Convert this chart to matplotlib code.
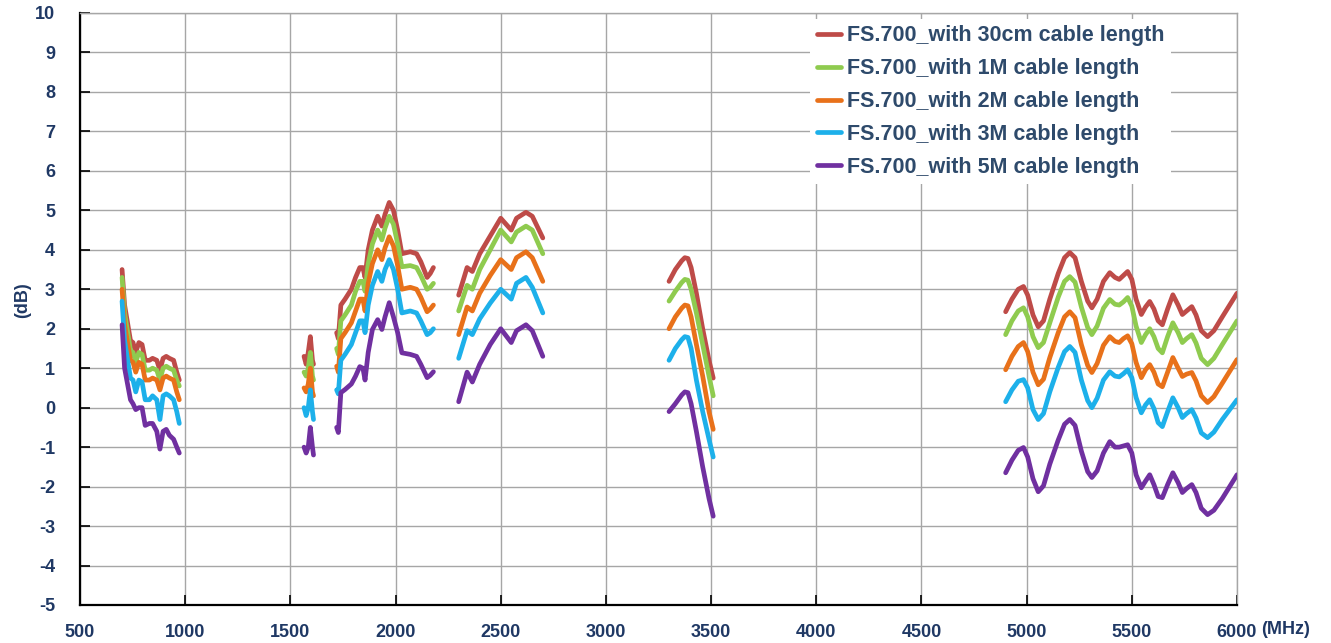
import numpy as np
import matplotlib.pyplot as plt

plt.rcParams['font.family'] = ['Liberation Sans', 'DejaVu Sans']
plt.rcParams['axes.unicode_minus'] = False

# ========== 數據 ==========
series_names = ['FS.700_with 30cm cable length', 'FS.700_with 1M cable length',
                'FS.700_with 2M cable length', 'FS.700_with 3M cable length',
                'FS.700_with 5M cable length']
colors = ['#BE4B48', '#8FCB4F', '#E8711A', '#1DB0EA', '#7030A0']

# 頻段1: 700-970 MHz
x1 = [700, 712, 740, 752, 765, 780, 795, 810, 830, 845, 865, 880, 895, 910, 925, 945, 960, 972]
red1 = [3.5, 2.6, 1.7, 1.65, 1.4, 1.65, 1.6, 1.2, 1.2, 1.25, 1.2, 0.95, 1.25, 1.3, 1.25, 1.2, 0.9, 0.7]
green1 = [3.3, 2.4, 1.45, 1.4, 1.15, 1.4, 1.35, 0.95, 0.95, 1.0, 0.95, 0.7, 1.0, 1.05, 1.0, 0.95, 0.7, 0.55]
orange1 = [3.0, 2.1, 1.2, 1.15, 0.9, 1.15, 1.1, 0.7, 0.7, 0.75, 0.7, 0.45, 0.75, 0.8, 0.75, 0.7, 0.4, 0.2]
blue1 = [2.7, 1.7, 0.75, 0.7, 0.4, 0.7, 0.65, 0.2, 0.2, 0.3, 0.2, -0.3, 0.3, 0.35, 0.3, 0.2, -0.1, -0.4]
purple1 = [2.1, 1.0, 0.2, 0.1, -0.05, 0.0, 0.0, -0.45, -0.4, -0.4, -0.6, -1.05, -0.6, -0.55, -0.7, -0.8, -1.0, -1.15]

# 頻段2: 1565-1610 MHz
x2 = [1565, 1575, 1585, 1595, 1605, 1610]
red2 = [1.3, 1.1, 1.4, 1.8, 1.2, 1.1]
green2 = [0.9, 0.8, 1.0, 1.4, 0.8, 0.7]
orange2 = [0.5, 0.4, 0.6, 1.0, 0.4, 0.3]
blue2 = [0.0, -0.2, 0.0, 0.45, -0.1, -0.3]
purple2 = [-1.0, -1.15, -1.0, -0.5, -1.0, -1.2]

# 頻段3: 1720-2180 MHz
x3 = [1720, 1728, 1740, 1760, 1790, 1810, 1830, 1845, 1855, 1870, 1890, 1915,
      1935, 1950, 1970, 1990, 2010, 2030, 2070, 2100, 2120, 2150, 2165, 2180]
red3 = [1.9, 1.75, 2.6, 2.75, 3.0, 3.3, 3.55, 3.55, 3.3, 4.0, 4.5, 4.85,
        4.6, 4.9, 5.2, 5.0, 4.5, 3.9, 3.95, 3.9, 3.7, 3.3, 3.4, 3.55]
green3 = [1.5, 1.35, 2.2, 2.35, 2.6, 2.95, 3.2, 3.2, 2.95, 3.65, 4.15, 4.5,
          4.25, 4.55, 4.85, 4.65, 4.15, 3.57, 3.6, 3.55, 3.35, 3.0, 3.05, 3.15]
orange3 = [1.05, 0.9, 1.75, 1.9, 2.15, 2.45, 2.75, 2.75, 2.45, 3.15, 3.65, 4.0,
           3.75, 4.05, 4.33, 4.1, 3.6, 3.0, 3.05, 3.0, 2.8, 2.43, 2.5, 2.6]
blue3 = [0.45, 0.35, 1.2, 1.35, 1.6, 1.9, 2.2, 2.2, 1.9, 2.6, 3.1, 3.45,
         3.2, 3.5, 3.75, 3.5, 3.0, 2.4, 2.45, 2.4, 2.2, 1.85, 1.9, 2.0]
purple3 = [-0.5, -0.63, 0.38, 0.46, 0.6, 0.8, 1.04, 1.0, 0.7, 1.4, 1.98, 2.23,
           1.98, 2.3, 2.66, 2.3, 1.9, 1.39, 1.35, 1.3, 1.1, 0.76, 0.82, 0.91]

# 頻段4: 2300-2700 MHz
x4 = [2300, 2340, 2365, 2400, 2450, 2500, 2550, 2575, 2620, 2650, 2700]
red4 = [2.85, 3.55, 3.45, 3.9, 4.35, 4.8, 4.5, 4.8, 4.95, 4.85, 4.3]
green4 = [2.45, 3.1, 3.0, 3.5, 4.0, 4.5, 4.2, 4.45, 4.6, 4.5, 3.9]
orange4 = [1.85, 2.55, 2.45, 2.9, 3.35, 3.75, 3.5, 3.8, 3.95, 3.8, 3.2]
blue4 = [1.25, 1.95, 1.85, 2.25, 2.65, 3.0, 2.75, 3.15, 3.3, 3.05, 2.4]
purple4 = [0.15, 0.9, 0.65, 1.1, 1.6, 2.0, 1.65, 1.95, 2.1, 1.95, 1.3]

# 頻段5: 3300-3510 MHz
x5 = [3300, 3330, 3360, 3375, 3390, 3405, 3430, 3460, 3490, 3510]
red5 = [3.2, 3.5, 3.72, 3.8, 3.78, 3.55, 2.9, 2.0, 1.2, 0.75]
green5 = [2.7, 2.95, 3.17, 3.25, 3.23, 3.0, 2.4, 1.6, 0.8, 0.3]
orange5 = [2.0, 2.3, 2.52, 2.6, 2.58, 2.3, 1.6, 0.8, -0.1, -0.55]
blue5 = [1.2, 1.5, 1.72, 1.8, 1.78, 1.5, 0.7, -0.1, -0.8, -1.25]
purple5 = [-0.1, 0.1, 0.32, 0.4, 0.38, 0.1, -0.6, -1.5, -2.3, -2.75]

# 頻段6: 4900-6000 MHz
x6 = [4900, 4930, 4960, 4985, 5005, 5030, 5055, 5080, 5110, 5150,
      5180, 5205, 5230, 5260, 5290, 5310, 5335, 5365, 5395, 5420,
      5440, 5460, 5480, 5500, 5520, 5545, 5565, 5585, 5605, 5625,
      5645, 5670, 5695, 5720, 5740, 5760, 5785, 5805, 5830, 5860,
      5890, 5930, 5965, 6000]
red6 = [2.43, 2.75, 3.0, 3.07, 2.85, 2.35, 2.05, 2.2, 2.75, 3.4,
        3.8, 3.93, 3.8, 3.2, 2.7, 2.53, 2.75, 3.2, 3.42, 3.3,
        3.25, 3.35, 3.45, 3.25, 2.75, 2.36, 2.55, 2.69, 2.5, 2.2,
        2.1, 2.5, 2.86, 2.6, 2.36, 2.45, 2.56, 2.35, 1.95, 1.8,
        1.95, 2.3, 2.6, 2.9]
green6 = [1.85, 2.2, 2.45, 2.53, 2.3, 1.8, 1.52, 1.65, 2.15, 2.8,
          3.2, 3.32, 3.18, 2.55, 2.03, 1.85, 2.07, 2.52, 2.74, 2.62,
          2.6, 2.68, 2.79, 2.57, 2.07, 1.65, 1.85, 2.0, 1.8, 1.5,
          1.39, 1.8, 2.15, 1.9, 1.65, 1.75, 1.85, 1.64, 1.25, 1.09,
          1.25, 1.6, 1.9, 2.2]
orange6 = [0.96, 1.3, 1.55, 1.65, 1.42, 0.9, 0.58, 0.72, 1.27, 1.9,
           2.3, 2.43, 2.28, 1.6, 1.07, 0.89, 1.12, 1.58, 1.8, 1.68,
           1.65, 1.75, 1.82, 1.62, 1.15, 0.76, 0.96, 1.09, 0.9, 0.6,
           0.53, 0.9, 1.27, 1.0, 0.79, 0.85, 0.89, 0.68, 0.3, 0.13,
           0.28, 0.62, 0.92, 1.22]
blue6 = [0.15, 0.45, 0.67, 0.71, 0.5, -0.05, -0.3, -0.15, 0.4, 1.02,
         1.42, 1.55, 1.4, 0.7, 0.18, 0.0, 0.24, 0.7, 0.91, 0.8,
         0.78, 0.86, 0.96, 0.76, 0.26, -0.13, 0.07, 0.2, -0.02, -0.38,
         -0.48, -0.1, 0.25, 0.0, -0.25, -0.15, -0.05, -0.26, -0.64, -0.76,
         -0.62, -0.3, -0.05, 0.2]
purple6 = [-1.65, -1.33, -1.08, -1.01, -1.25, -1.8, -2.13, -1.98, -1.43, -0.82,
           -0.42, -0.3, -0.45, -1.1, -1.62, -1.77, -1.6, -1.15, -0.86, -1.0,
           -1.0, -0.97, -0.94, -1.15, -1.7, -2.03, -1.86, -1.7, -1.95, -2.25,
           -2.28, -1.95, -1.65, -1.9, -2.15, -2.05, -1.95, -2.15, -2.55, -2.71,
           -2.6, -2.3, -2.0, -1.7]

segments_x = [x1, x2, x3, x4, x5, x6]
series_y = [
    [red1, red2, red3, red4, red5, red6],
    [green1, green2, green3, green4, green5, green6],
    [orange1, orange2, orange3, orange4, orange5, orange6],
    [blue1, blue2, blue3, blue4, blue5, blue6],
    [purple1, purple2, purple3, purple4, purple5, purple6],
]

x_ticks = np.arange(500, 6001, 500)
y_ticks = np.arange(-5, 11, 1)

# ========== 繪圖 ==========
fig = plt.figure(figsize=(13.31, 6.43), dpi=100)
ax = fig.add_axes([0.0601, 0.0591, 0.8693, 0.9207])

label_color = '#1F3864'

for name, color, ys in zip(series_names, colors, series_y):
    for i, (xs, yv) in enumerate(zip(segments_x, ys)):
        ax.plot(xs, yv, color=color, linewidth=3.4, solid_joinstyle='round',
                solid_capstyle='round', label=name if i == 0 else None, zorder=3)

ax.set_xlim(500, 6000)
ax.set_ylim(-5, 10)
ax.set_xticks(x_ticks)
ax.set_yticks(y_ticks)
ax.grid(True, color='#A6A6A6', linewidth=1.0)
ax.set_axisbelow(True)

for s in ['left', 'bottom']:
    ax.spines[s].set_color('black')
    ax.spines[s].set_linewidth(1.6)
for s in ['top', 'right']:
    ax.spines[s].set_color('#A6A6A6')
    ax.spines[s].set_linewidth(1.0)

ax.tick_params(axis='both', direction='in', length=7, width=1.2, color='black',
               labelsize=13, labelcolor=label_color)
ax.tick_params(axis='y', pad=18)
ax.tick_params(axis='x', pad=14)
for lab in ax.get_xticklabels() + ax.get_yticklabels():
    lab.set_fontweight('bold')

ax.text(-0.05, 0.515, '(dB)', transform=ax.transAxes, rotation=90, ha='center', va='center',
        fontsize=13, fontweight='bold', color=label_color)
ax.text(1.021, -0.041, '(MHz)', transform=ax.transAxes, ha='left', va='center',
        fontsize=13, fontweight='bold', color=label_color)

leg = ax.legend(loc='upper left', bbox_to_anchor=(0.622, 1.008), frameon=True,
                handlelength=1.1, handletextpad=0.3, labelspacing=0.55,
                borderpad=0.3, prop={'weight': 'bold', 'size': 15.5})
leg.get_frame().set_facecolor('white')
leg.get_frame().set_edgecolor('none')
leg.get_frame().set_alpha(1.0)
for t in leg.get_texts():
    t.set_color('#2E4A6B')

plt.savefig('out.png', dpi=100)
